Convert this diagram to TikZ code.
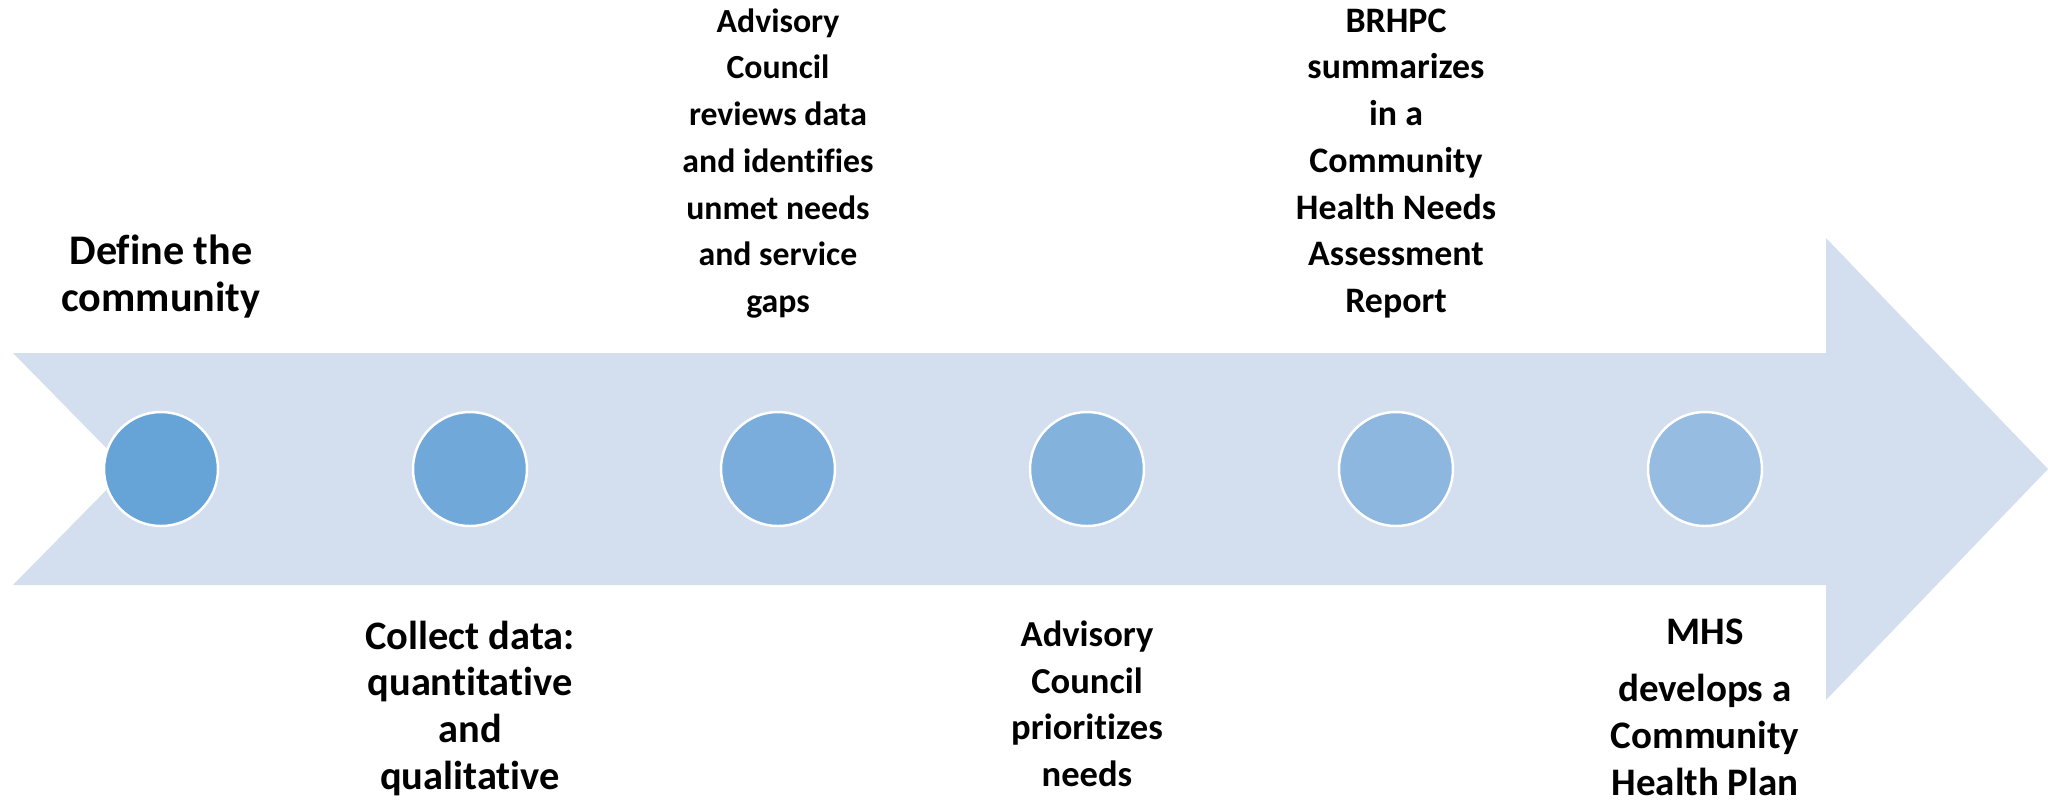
\documentclass[tikz,border=0pt]{standalone}
\usepackage{fontspec}
\setmainfont{Carlito}[Ligatures=NoCommon]
\usepackage{tikz}

\definecolor{arrowfill}{RGB}{211,222,239}
\definecolor{dotA}{RGB}{102,163,215}
\definecolor{dotB}{RGB}{112,168,217}
\definecolor{dotC}{RGB}{122,173,219}
\definecolor{dotD}{RGB}{131,178,221}
\definecolor{dotE}{RGB}{141,183,223}
\definecolor{dotF}{RGB}{151,188,225}

\tikzset{
  stagedot/.style = {circle, draw=white, line width=0.7pt, minimum size=1.14cm, inner sep=0pt},
  stagetext/.style = {align=center, inner sep=0pt, font=\bfseries\fontsize{10.2pt}{13.3pt}\selectfont},
}

\begin{document}
\begin{tikzpicture}
    \useasboundingbox (0,0) rectangle (20.48,-8.07);
%    \draw [lightgray, thin, step = 1] (0,0) grid (20.48,-8.07);
    % the big arrow
    \fill [arrowfill] (0.13,-3.53) -- (18.26,-3.53) -- (18.26,-2.38) -- (20.48,-4.69)
        -- (18.26,-7.00) -- (18.26,-5.85) -- (0.13,-5.85) -- (1.27,-4.69) -- cycle;

    \node (s1) [stagedot, fill=dotA] at (1.61,-4.69) {};
    \node (s2) [stagedot, fill=dotB] at (4.70,-4.69) {};
    \node (s3) [stagedot, fill=dotC] at (7.78,-4.69) {};
    \node (s4) [stagedot, fill=dotD] at (10.87,-4.69) {};
    \node (s5) [stagedot, fill=dotE] at (13.96,-4.69) {};
    \node (s6) [stagedot, fill=dotF] at (17.05,-4.69) {};

    % above the arrow
    \node (define) at (1.61,-3.19) [stagetext, above, font=\bfseries\fontsize{12pt}{13.3pt}\selectfont] {Define the\\community};
    \node (review) at (7.78,-3.19) [stagetext, above, font=\bfseries\fontsize{9.6pt}{13.3pt}\selectfont] {Advisory\\Council\\reviews data\\and identifies\\unmet needs\\and service\\gaps};
    \node (report) at (13.96,-3.19) [stagetext, above] {BRHPC\\summarizes\\in a\\Community\\Health Needs\\Assessment\\Report};

    % below the arrow
    \node (collect) at (4.70,-6.20) [stagetext, below, font=\bfseries\fontsize{11.5pt}{13.3pt}\selectfont] {Collect data:\\quantitative\\and\\qualitative};
    \node (priority) at (10.87,-6.20) [stagetext, below, font=\bfseries\fontsize{10.4pt}{13.3pt}\selectfont] {Advisory\\Council\\prioritizes\\needs};
    \node (plan) at (17.05,-6.18) [stagetext, below, font=\bfseries\fontsize{11.1pt}{13.4pt}\selectfont] {MHS\\[2.8pt]develops a\\Community\\Health Plan};
\end{tikzpicture}
\end{document}
